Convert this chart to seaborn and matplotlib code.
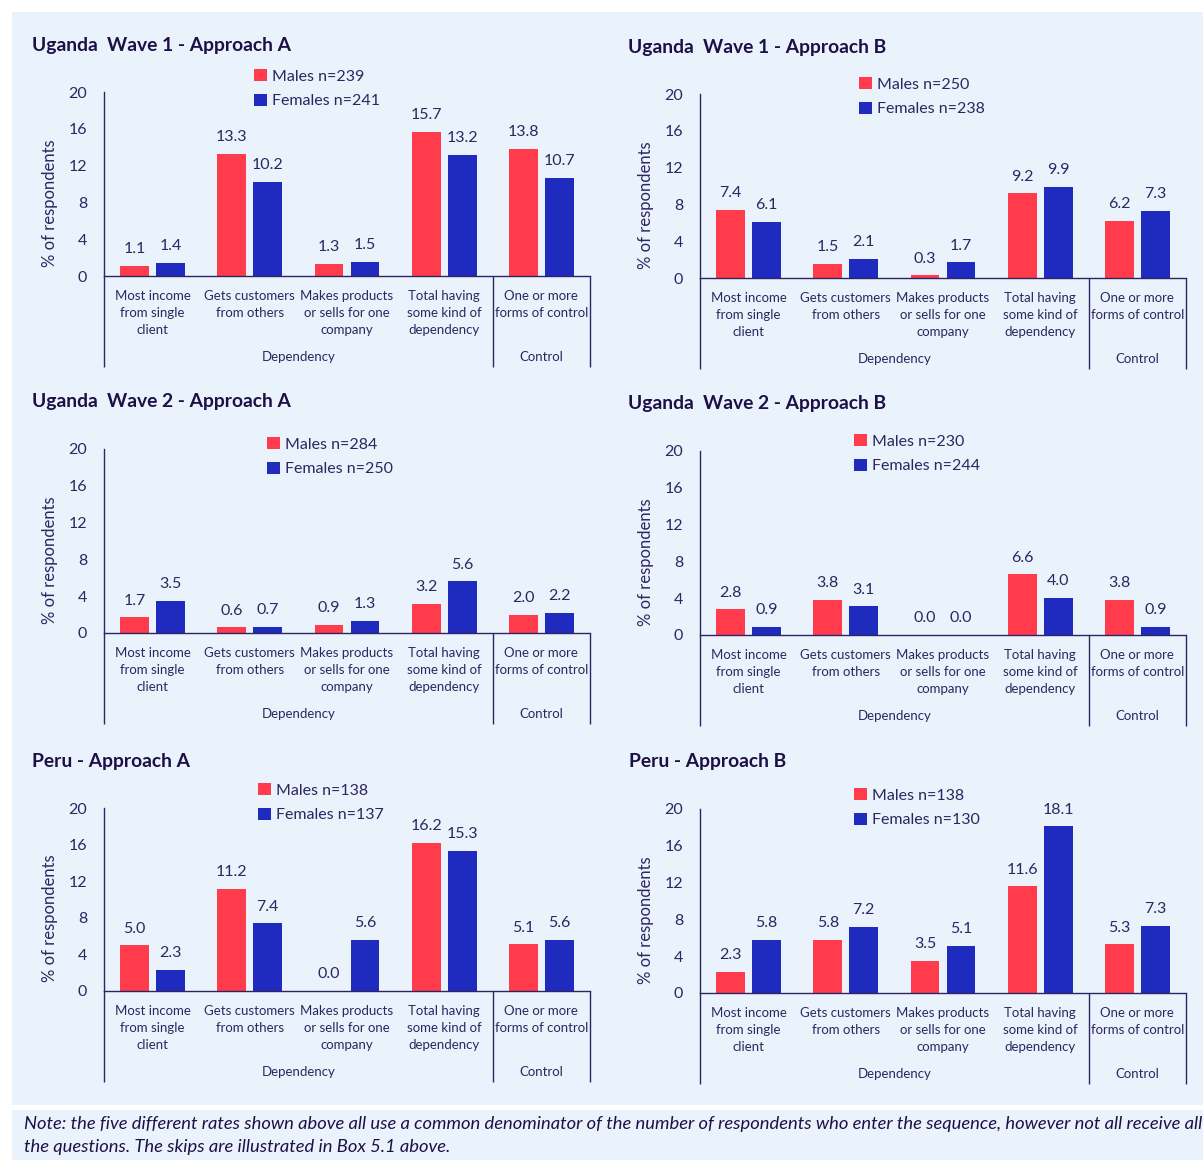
import matplotlib
matplotlib.use("Agg")
import matplotlib.pyplot as plt
from matplotlib.patches import Rectangle, Patch
import matplotlib.transforms as mtransforms
import numpy as np
import pandas as pd
import seaborn as sns

sns.set_theme(style="white")
plt.rcParams["font.family"] = ["Lato", "DejaVu Sans"]

# ---- data -------------------------------------------------------------
categories = [
    "Most income\nfrom single\nclient",
    "Gets customers\nfrom others",
    "Makes products\nor sells for one\ncompany",
    "Total having\nsome kind of\ndependency",
    "One or more\nforms of control",
]
groups = ["Dependency", "Control"]
group_sizes = [4, 1]
sexes = ["Males", "Females"]

titles = [
    "Uganda  Wave 1 - Approach A",
    "Uganda  Wave 1 - Approach B",
    "Uganda  Wave 2 - Approach A",
    "Uganda  Wave 2 - Approach B",
    "Peru - Approach A",
    "Peru - Approach B",
]
males_n = [239, 250, 284, 230, 138, 138]
females_n = [241, 238, 250, 244, 137, 130]

males_w1a = [1.1, 13.3, 1.3, 15.7, 13.8]
females_w1a = [1.4, 10.2, 1.5, 13.2, 10.7]
males_w1b = [7.4, 1.5, 0.3, 9.2, 6.2]
females_w1b = [6.1, 2.1, 1.7, 9.9, 7.3]
males_w2a = [1.7, 0.6, 0.9, 3.2, 2.0]
females_w2a = [3.5, 0.7, 1.3, 5.6, 2.2]
males_w2b = [2.8, 3.8, 0.0, 6.6, 3.8]
females_w2b = [0.9, 3.1, 0.0, 4.0, 0.9]
males_peru_a = [5.0, 11.2, 0.0, 16.2, 5.1]
females_peru_a = [2.3, 7.4, 5.6, 15.3, 5.6]
males_peru_b = [2.3, 5.8, 3.5, 11.6, 5.3]
females_peru_b = [5.8, 7.2, 5.1, 18.1, 7.3]

males_all = [males_w1a, males_w1b, males_w2a, males_w2b, males_peru_a, males_peru_b]
females_all = [females_w1a, females_w1b, females_w2a, females_w2b, females_peru_a, females_peru_b]

y_ticks = [0, 4, 8, 12, 16, 20]
note_lines = [
    "Note: the five different rates shown above all use a common denominator of the number of respondents who enter the sequence, however not all receive all",
    "the questions. The skips are illustrated in Box 5.1 above.",
]

# ---- styling ----------------------------------------------------------
RED = "#FF3B4C"
BLUE = "#1F2BBE"
BG = "#EAF3FC"
TITLE_C = "#1E1046"
TEXT_C = "#2E2660"
LINE_C = "#2E2464"
palette = {"Males": RED, "Females": BLUE}

W, H = 1203, 1160
fig = plt.figure(figsize=(W / 100, H / 100), dpi=100, facecolor="white")

# light blue backgrounds behind the charts and the footnote
fig.patches.append(Rectangle((12 / W, 1 - 1105 / H), 1 - 12 / W, (1105 - 12) / H,
                             transform=fig.transFigure, facecolor=BG, edgecolor="none", zorder=-10))
fig.patches.append(Rectangle((12 / W, 0), 1 - 12 / W, (1160 - 1110) / H,
                             transform=fig.transFigure, facecolor=BG, edgecolor="none", zorder=-10))

# panel geometry in pixels: x0, x1, y_top(20), y_zero(0), y_bottom(separators), title xy, legend xy
layout = [
    (104, 590, 92, 276, 367, (32, 45), (262, 75)),
    (700, 1186, 94, 278, 369, (628, 47), (867, 83)),
    (104, 590, 449, 633, 724, (32, 402), (275, 443)),
    (700, 1186, 451, 635, 726, (628, 404), (862, 440)),
    (104, 590, 808, 991, 1082, (32, 761), (266, 789)),
    (700, 1186, 809, 993, 1084, (629, 762), (862, 794)),
]

for i, (x0, x1, yt, yz, yb, tpos, lpos) in enumerate(layout):
    ax = fig.add_axes([x0 / W, 1 - yz / H, (x1 - x0) / W, (yz - yt) / H], zorder=2)
    ax.set_facecolor("none")

    df = pd.DataFrame({
        "category": categories * 2,
        "value": males_all[i] + females_all[i],
        "sex": ["Males"] * len(categories) + ["Females"] * len(categories),
    })
    sns.barplot(data=df, x="category", y="value", hue="sex", order=categories,
                hue_order=sexes, palette=palette, width=0.74, gap=0.2,
                linewidth=0, saturation=1, legend=False, ax=ax, errorbar=None)

    for cont in ax.containers:
        ax.bar_label(cont, fmt="%.1f", padding=7, fontsize=11.5, color=TEXT_C)

    ax.set_ylim(0, 20)
    ax.set_xlim(-0.5, len(categories) - 0.5)
    ax.set_yticks(y_ticks)
    ax.set_yticklabels([str(t) for t in y_ticks])
    ax.tick_params(axis="y", length=0, pad=12, labelsize=11.5, labelcolor=TEXT_C)
    ax.tick_params(axis="x", length=0, pad=10, labelsize=9.5, labelcolor=TEXT_C)
    ax.set_xticks(range(len(categories)))
    ax.set_xticklabels(categories, linespacing=1.5)
    ax.set_xlabel("")
    ax.set_ylabel("% of respondents", fontsize=12, color=TEXT_C)
    ax.yaxis.set_label_coords(-46 / (x1 - x0), 0.5 - 19 / (yz - yt))

    for s in ["top", "right"]:
        ax.spines[s].set_visible(False)
    for s in ["left", "bottom"]:
        ax.spines[s].set_color(LINE_C)
        ax.spines[s].set_linewidth(1.0)

    # multi-level category axis: separators and group labels
    trans = mtransforms.blended_transform_factory(ax.transData, ax.transAxes)
    depth = -(yb - yz) / (yz - yt)
    edges = np.concatenate([[-0.5], np.cumsum(group_sizes) - 0.5])
    for e in edges:
        ax.plot([e, e], [0, depth], transform=trans, color=LINE_C, lw=1.0,
                clip_on=False, solid_capstyle="butt")
    glabel_y = depth + 10 / (yz - yt)
    for g, a, b in zip(groups, edges[:-1], edges[1:]):
        ax.text((a + b) / 2, glabel_y, g, transform=trans, ha="center", va="center",
                fontsize=9.5, color=TEXT_C)

    # title
    fig.text(tpos[0] / W, 1 - tpos[1] / H, titles[i], ha="left", va="center",
             fontsize=13.9, fontweight="bold", color=TITLE_C)

    # legend
    handles = [Patch(facecolor=RED, edgecolor="none"), Patch(facecolor=BLUE, edgecolor="none")]
    labels = [f"Males n={males_n[i]}", f"Females n={females_n[i]}"]
    fig.legend(handles, labels, loc="upper left",
               bbox_to_anchor=((lpos[0] - 8) / W, 1 - (lpos[1] - 6) / H),
               frameon=False, fontsize=11.5, handlelength=0.8, handleheight=0.8,
               handletextpad=0.35, labelspacing=0.62, borderpad=0, borderaxespad=0,
               labelcolor=TEXT_C)

# footnote
fig.text(24 / W, 1 - 1124 / H, note_lines[0], ha="left", va="center",
         fontsize=13.2, style="italic", color=TITLE_C)
fig.text(24 / W, 1 - 1147 / H, note_lines[1], ha="left", va="center",
         fontsize=13.2, style="italic", color=TITLE_C)

fig.savefig("out.png", dpi=100, facecolor="white")
